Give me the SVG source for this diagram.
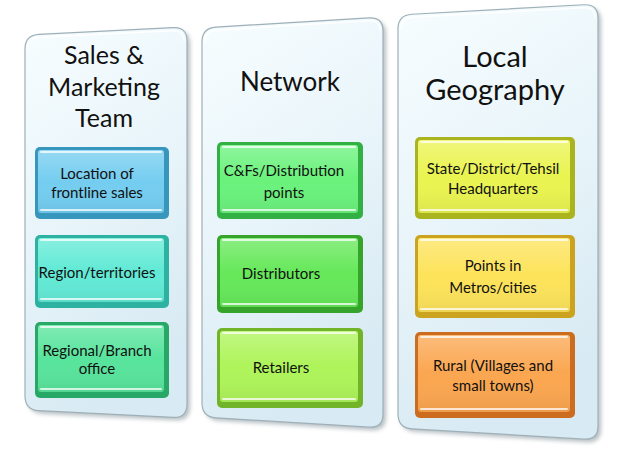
<svg xmlns="http://www.w3.org/2000/svg" width="622" height="453" viewBox="0 0 622 453">
<style>
  .panel{stroke:#9fb0b9;stroke-width:1.2;fill:url(#pg)}
  .pshadow{fill:#7d8a92;opacity:0.55;filter:url(#blur)}
  .pinner{fill:none;stroke:#ffffff;stroke-width:1.5;opacity:0.9}
  .title{font-family:Lato,"Open Sans",sans-serif;fill:#111;text-anchor:middle}
  .lbl{font-family:Lato,"Open Sans",sans-serif;font-size:15px;fill:#111;text-anchor:middle}
  .hl{stroke:#ffffff;stroke-width:2;opacity:0.75;stroke-linecap:round}
  .shade{fill:#000;opacity:0.18}
</style>
<defs>
  <linearGradient id="pg" x1="0" y1="0" x2="0.3" y2="1">
    <stop offset="0" stop-color="#f7fdff"/>
    <stop offset="0.5" stop-color="#e9f5fa"/>
    <stop offset="1" stop-color="#d8eaf3"/>
  </linearGradient>
  <linearGradient id="faceShine" x1="0" y1="0" x2="0" y2="1">
    <stop offset="0" stop-color="#ffffff" stop-opacity="0.25"/>
    <stop offset="0.5" stop-color="#ffffff" stop-opacity="0"/>
    <stop offset="1" stop-color="#000000" stop-opacity="0.06"/>
  </linearGradient>
  <filter id="blur" x="-10%" y="-10%" width="120%" height="120%"><feGaussianBlur stdDeviation="2"/></filter>
</defs>

<!-- Panel 1 -->
<g id="panel-sales">
  <path class="pshadow" transform="translate(3,3)" d="M 25,49 Q 25,35 39,34.3 L 173,27.7 Q 187,27 187,41 L 187,404 Q 187,418 173,417.3 L 39,410.7 Q 25,410 25,396 Z"/>
  <path class="panel" d="M 25,49 Q 25,35 39,34.3 L 173,27.7 Q 187,27 187,41 L 187,404 Q 187,418 173,417.3 L 39,410.7 Q 25,410 25,396 Z"/>
  <path class="pinner" d="M 28,49 Q 28,38 39,37.3 L 173,30.7 Q 184,30 184,41"/>
  <text class="title" font-size="25" x="104" y="64">Sales &amp;</text>
  <text class="title" font-size="25" x="104" y="96">Marketing</text>
  <text class="title" font-size="25" x="104" y="127">Team</text>
</g>

<!-- Panel 2 -->
<g id="panel-network">
  <path class="pshadow" transform="translate(3,3)" d="M 202,42 Q 202,28 216,27.15 L 369,17.85 Q 383,17 383,31 L 383,414 Q 383,428 369,427.15 L 216,417.85 Q 202,417 202,403 Z"/>
  <path class="panel" d="M 202,42 Q 202,28 216,27.15 L 369,17.85 Q 383,17 383,31 L 383,414 Q 383,428 369,427.15 L 216,417.85 Q 202,417 202,403 Z"/>
  <path class="pinner" d="M 205,42 Q 205,31 216,30.15 L 369,20.85 Q 380,20 380,31"/>
  <text class="title" font-size="26" x="290" y="91">Network</text>
</g>

<!-- Panel 3 -->
<g id="panel-geo">
  <path class="pshadow" transform="translate(3,3)" d="M 398,29 Q 398,15 412,14.23 L 584,4.77 Q 598,4 598,18 L 598,426 Q 598,440 584,439.16 L 412,428.84 Q 398,428 398,414 Z"/>
  <path class="panel" d="M 398,29 Q 398,15 412,14.23 L 584,4.77 Q 598,4 598,18 L 598,426 Q 598,440 584,439.16 L 412,428.84 Q 398,428 398,414 Z"/>
  <path class="pinner" d="M 401,29 Q 401,18 412,17.23 L 584,7.77 Q 595,7 595,18"/>
  <text class="title" font-size="29" x="495" y="67">Local</text>
  <text class="title" font-size="29" x="495" y="100">Geography</text>
</g>

<!-- Boxes: outer edge, face, shading, highlights, text -->
<g id="box-location">
  <rect x="35" y="147" width="134" height="72" rx="5" fill="#3796bb"/>
  <rect x="38" y="150" width="126" height="63" rx="3" fill="#74cdf0"/>
  <rect x="38" y="150" width="126" height="63" rx="3" fill="url(#faceShine)"/>
  <line class="hl" x1="41" y1="152" x2="161" y2="152"/>
  <line class="hl" x1="41" y1="210" x2="161" y2="210"/>
  <text class="lbl" x="97" y="178.5">Location of</text>
  <text class="lbl" x="97" y="197.5">frontline sales</text>
</g>
<g id="box-region">
  <rect x="35" y="235" width="134" height="73" rx="5" fill="#2db2a2"/>
  <rect x="38" y="238" width="126" height="64" rx="3" fill="#62ead6"/>
  <rect x="38" y="238" width="126" height="64" rx="3" fill="url(#faceShine)"/>
  <line class="hl" x1="41" y1="240" x2="161" y2="240"/>
  <line class="hl" x1="41" y1="299" x2="161" y2="299"/>
  <text class="lbl" x="97" y="277.5">Region/territories</text>
</g>
<g id="box-branch">
  <rect x="35" y="322" width="134" height="76" rx="5" fill="#28a866"/>
  <rect x="38" y="325" width="126" height="67" rx="3" fill="#58e49c"/>
  <rect x="38" y="325" width="126" height="67" rx="3" fill="url(#faceShine)"/>
  <line class="hl" x1="41" y1="327" x2="161" y2="327"/>
  <line class="hl" x1="41" y1="389" x2="161" y2="389"/>
  <text class="lbl" x="97" y="355.5">Regional/Branch</text>
  <text class="lbl" x="97" y="373.5">office</text>
</g>

<g id="box-cf">
  <rect x="217" y="142" width="146" height="77" rx="5" fill="#32b043"/>
  <rect x="220" y="145" width="138" height="68" rx="3" fill="#6af27c"/>
  <rect x="220" y="145" width="138" height="68" rx="3" fill="url(#faceShine)"/>
  <line class="hl" x1="223" y1="147" x2="355" y2="147"/>
  <line class="hl" x1="223" y1="210" x2="355" y2="210"/>
  <text class="lbl" x="284" y="175.5">C&amp;Fs/Distribution</text>
  <text class="lbl" x="284" y="197.5">points</text>
</g>
<g id="box-distributors">
  <rect x="217" y="235" width="146" height="78" rx="5" fill="#36a42a"/>
  <rect x="220" y="238" width="138" height="69" rx="3" fill="#66e85a"/>
  <rect x="220" y="238" width="138" height="69" rx="3" fill="url(#faceShine)"/>
  <line class="hl" x1="223" y1="240" x2="355" y2="240"/>
  <line class="hl" x1="223" y1="304" x2="355" y2="304"/>
  <text class="lbl" x="281" y="278.5">Distributors</text>
</g>
<g id="box-retailers">
  <rect x="217" y="328" width="146" height="80" rx="5" fill="#72b428"/>
  <rect x="220" y="331" width="138" height="71" rx="3" fill="#aef45a"/>
  <rect x="220" y="331" width="138" height="71" rx="3" fill="url(#faceShine)"/>
  <line class="hl" x1="223" y1="333" x2="355" y2="333"/>
  <line class="hl" x1="223" y1="399" x2="355" y2="399"/>
  <text class="lbl" x="281" y="372.5">Retailers</text>
</g>

<g id="box-state">
  <rect x="415" y="137" width="160" height="82" rx="5" fill="#aab41e"/>
  <rect x="418" y="140" width="152" height="73" rx="3" fill="#eaf450"/>
  <rect x="418" y="140" width="152" height="73" rx="3" fill="url(#faceShine)"/>
  <line class="hl" x1="421" y1="142" x2="567" y2="142"/>
  <line class="hl" x1="421" y1="210" x2="567" y2="210"/>
  <text class="lbl" x="493" y="173.5">State/District/Tehsil</text>
  <text class="lbl" x="493" y="193.5">Headquarters</text>
</g>
<g id="box-points">
  <rect x="415" y="235" width="160" height="83" rx="5" fill="#cca31e"/>
  <rect x="418" y="238" width="152" height="74" rx="3" fill="#fde35a"/>
  <rect x="418" y="238" width="152" height="74" rx="3" fill="url(#faceShine)"/>
  <line class="hl" x1="421" y1="240" x2="567" y2="240"/>
  <line class="hl" x1="421" y1="309" x2="567" y2="309"/>
  <text class="lbl" x="493" y="270.5">Points in</text>
  <text class="lbl" x="493" y="292.5">Metros/cities</text>
</g>
<g id="box-rural">
  <rect x="415" y="332" width="160" height="86" rx="5" fill="#cc6c1e"/>
  <rect x="418" y="335" width="152" height="77" rx="3" fill="#fba650"/>
  <rect x="418" y="335" width="152" height="77" rx="3" fill="url(#faceShine)"/>
  <line class="hl" x1="421" y1="337" x2="567" y2="337"/>
  <line class="hl" x1="421" y1="409" x2="567" y2="409"/>
  <text class="lbl" x="493" y="370.5">Rural (Villages and</text>
  <text class="lbl" x="493" y="390.5">small towns)</text>
</g>

<g id="connectors"></g>
</svg>
